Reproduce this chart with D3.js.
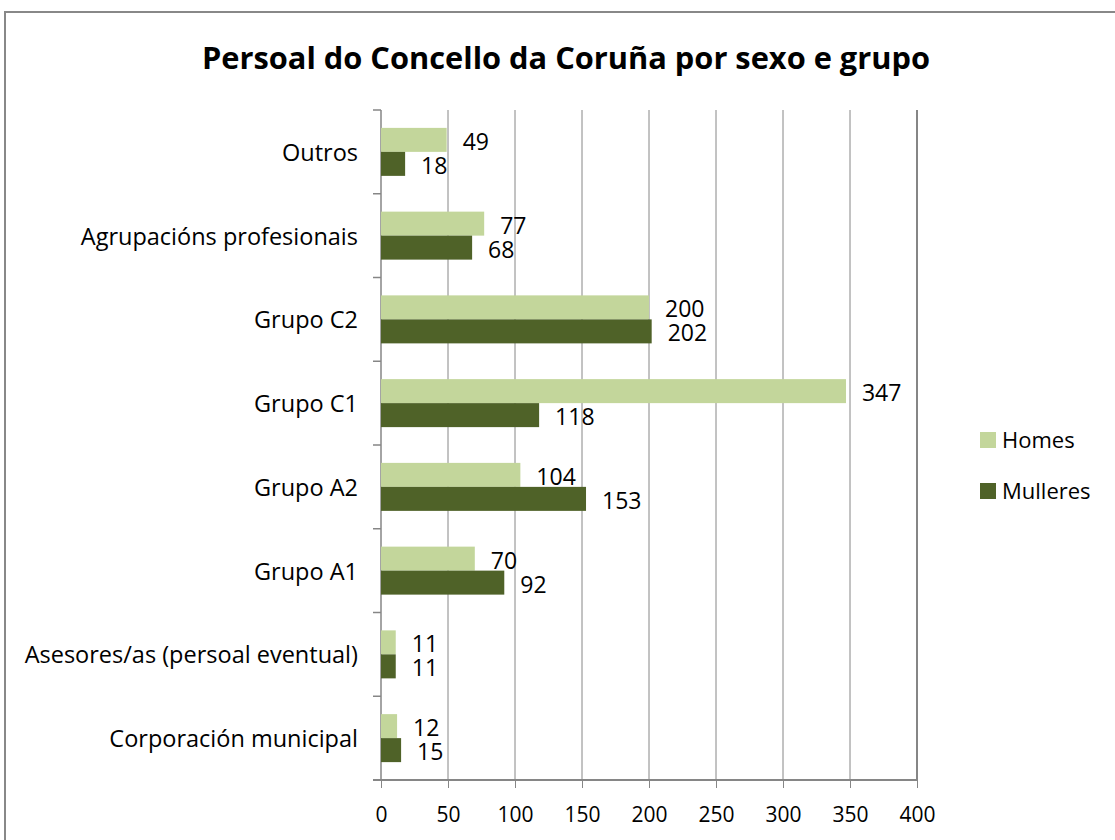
<!DOCTYPE html>
<html>
<head>
<meta charset="utf-8">
<script src="https://cdn.jsdelivr.net/npm/d3@7"></script>
<style>
  body { margin: 0; background: #fff; }
  text { font-family: "Open Sans", "Noto Sans", sans-serif; fill: #000; }
</style>
</head>
<body>
<script>
// data, top to bottom as in the chart
var categories = ["Outros", "Agrupacións profesionais", "Grupo C2", "Grupo C1",
  "Grupo A2", "Grupo A1", "Asesores/as (persoal eventual)", "Corporación municipal"]
var series = ["Homes", "Mulleres"]
var homes = [49, 77, 200, 347, 104, 70, 11, 12]
var mulleres = [18, 68, 202, 118, 153, 92, 11, 15]
var xTicks = [0, 50, 100, 150, 200, 250, 300, 350, 400]
var colors = ["#c3d69b", "#4f6228"]
var title = "Persoal do Concello da Coruña por sexo e grupo"

var width = 1115, height = 840
var plot = {left: 381, right: 917, top: 110, bottom: 780}

var svg = d3.select("body").append("svg")
  .attr("width", width)
  .attr("height", height)

// outer chart border (runs off the page on the right and bottom)
svg.append("rect")
  .attr("x", 5).attr("y", 12)
  .attr("width", width + 20).attr("height", height + 20)
  .attr("fill", "none")
  .attr("stroke", "#888")
  .attr("stroke-width", 2)

// title
svg.append("text")
  .attr("x", 566).attr("y", 69)
  .attr("text-anchor", "middle")
  .style("font-size", "30px")
  .style("font-weight", "bold")
  .attr("textLength", 728)
  .attr("lengthAdjust", "spacingAndGlyphs")
  .text(title)

// scales
var x = d3.scaleLinear().domain([0, 400]).range([plot.left, plot.right])
var y0 = d3.scaleBand().domain(categories).range([plot.top, plot.bottom]).padding(0)
var y1 = d3.scaleBand().domain(series).range([0, y0.bandwidth()])
  .paddingInner(0).paddingOuter(0.745)

// gridlines
svg.append("g").selectAll("line")
  .data(xTicks.slice(1))
  .join("line")
  .attr("x1", d => x(d)).attr("x2", d => x(d))
  .attr("y1", plot.top).attr("y2", plot.bottom)
  .attr("stroke", "#868686")
  .attr("stroke-width", d => d == 400 ? 2 : 1)

// x axis
var xAxis = svg.append("g")
  .attr("transform", "translate(0," + plot.bottom + ")")
  .call(d3.axisBottom(x).tickValues(xTicks).tickSize(8).tickPadding(19).tickFormat(d3.format("d")))
xAxis.select(".domain").attr("stroke", "#868686").attr("stroke-width", 2)
  .attr("d", "M" + (plot.left - 8) + ",0H" + plot.right)
xAxis.selectAll(".tick line").attr("stroke", "#868686")
xAxis.selectAll("text").style("font-size", "21px").attr("fill", "#000")

// y axis: ticks at band edges
var edges = categories.map(c => y0(c)).concat([plot.bottom])
svg.append("line")
  .attr("x1", plot.left).attr("x2", plot.left)
  .attr("y1", plot.top).attr("y2", plot.bottom)
  .attr("stroke", "#868686").attr("stroke-width", 1.5)
svg.append("g").selectAll("line")
  .data(edges)
  .join("line")
  .attr("x1", plot.left - 8).attr("x2", plot.left)
  .attr("y1", d => d).attr("y2", d => d)
  .attr("stroke", "#868686").attr("stroke-width", 1.5)
svg.append("g").selectAll("text")
  .data(categories)
  .join("text")
  .attr("x", plot.left - 23)
  .attr("y", d => y0(d) + y0.bandwidth() / 2 + 9)
  .attr("text-anchor", "end")
  .style("font-size", "23.5px")
  .text(d => d)

// bars
var rows = categories.map(function(c, i) {
  return {cat: c, values: [{s: "Homes", v: homes[i]}, {s: "Mulleres", v: mulleres[i]}]}
})
var groups = svg.append("g").selectAll("g")
  .data(rows)
  .join("g")
  .attr("transform", d => "translate(0," + y0(d.cat) + ")")

groups.selectAll("rect")
  .data(d => d.values)
  .join("rect")
  .attr("x", x(0))
  .attr("y", d => y1(d.s))
  .attr("width", d => x(d.v) - x(0))
  .attr("height", y1.bandwidth())
  .attr("fill", (d, i) => colors[i])

groups.selectAll("text")
  .data(d => d.values)
  .join("text")
  .attr("x", d => x(d.v) + 16)
  .attr("y", d => y1(d.s) + y1.bandwidth() / 2 + 10)
  .style("font-size", "23px")
  .text(d => d.v)

// legend
var legend = svg.append("g").selectAll("g")
  .data(series)
  .join("g")
  .attr("transform", (d, i) => "translate(980," + (432 + i * 51) + ")")
legend.append("rect")
  .attr("width", 16).attr("height", 16)
  .attr("fill", (d, i) => colors[i])
legend.append("text")
  .attr("x", 22).attr("y", 16)
  .style("font-size", "22px")
  .text(d => d)
</script>
</body>
</html>
